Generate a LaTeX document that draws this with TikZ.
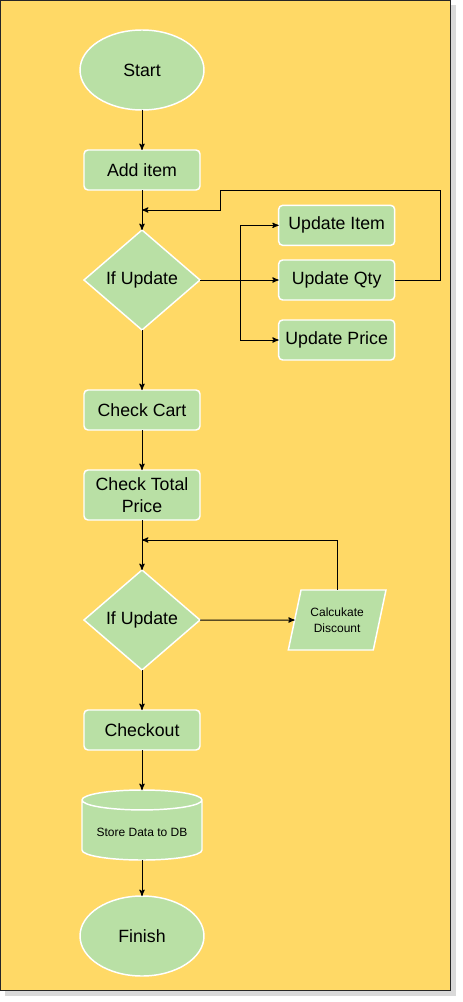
\documentclass[tikz,border=0pt]{standalone}
\usepackage{fontspec}
\setmainfont{Liberation Sans}
\usetikzlibrary{shapes.geometric}
\usetikzlibrary{shapes.symbols}
\usetikzlibrary{positioning}
\usetikzlibrary{arrows}
\definecolor{bgyellow}{HTML}{FFD966}
\definecolor{boxgreen}{HTML}{B9E0A5}
\tikzset{
    every node/.append style={
        font=\fontsize{13.3}{16.5}\selectfont
    },
    shapeline/.style={
        draw=white,
        line width=1.1pt,
        fill=boxgreen,
        outer sep=0pt
    },
    block/.style={
        shapeline,
        rectangle,
        rounded corners=3pt,
        minimum width=87pt,
        minimum height=30pt,
        align=center
    },
    terminal/.style={
        shapeline,
        ellipse,
        minimum width=93pt,
        minimum height=60pt
    },
    decision/.style={
        shapeline,
        diamond,
        inner sep=0pt,
        minimum width=87pt,
        minimum height=75pt
    },
    inout/.style={
        shapeline,
        trapezium,
        trapezium left angle=72,
        trapezium right angle=108,
        trapezium stretches=true,
        minimum width=73.5pt,
        minimum height=45pt,
        align=center,
        font=\fontsize{9}{12}\selectfont
    },
    database/.style={
        shapeline,
        cylinder,
        shape border rotate=90,
        aspect=0.2,
        minimum width=90pt,
        minimum height=52.5pt,
        font=\fontsize{9}{10}\selectfont
    },
    flow/.style={
        draw,
        ->,>=stealth',
        line width=0.75pt
    }
}

\begin{document}
\begin{tikzpicture}[x=0.75pt, y=-0.75pt]
            % page and shadow
            \useasboundingbox (0,0) rectangle (462,1002);
            \fill[gray!30] (5,5) rectangle (456,996);
            \draw[fill=bgyellow, line width=0.75pt, draw=black!85] (0.5,0.5) rectangle (450.5,990.5);

            \node[terminal] (start) at (142,70) {Start};
            \node[block, below=30pt of start] (additem) {Add item};
            \node[decision, below=30pt of additem] (ifupd) {If Update};
            \node[block, right=59pt of ifupd] (updqty) {Update Qty};
            \node[block, above=11pt of updqty] (upditem) {Update Item};
            \node[block, below=15pt of updqty] (updprice) {Update Price};
            \node[block, below=45pt of ifupd] (chkcart) {Check Cart};
            \node[block, below=30pt of chkcart, minimum height=37.5pt] (chktotal) {Check Total\\Price};
            \node[decision, below=37.5pt of chktotal] (ifdisc) {If Update};
            \node[inout, right=71pt of ifdisc] (calcdisc) {Calcukate\\Discount};
            \node[block, below=30pt of ifdisc] (checkout) {Checkout};
            \node[database, below=30pt of checkout] (store) {Store Data to DB};
            \node[terminal, below=27pt of store] (finish) {Finish};

            \coordinate (backin) at (additem.south |- 0,210);
            \coordinate (discin) at (chktotal.south |- 0,540);

            \draw[flow] (start) -- (additem);
            \draw[flow] (additem) -- (ifupd);
            \draw[flow] (ifupd) -- (updqty);
            \draw[flow] (ifupd.east) -- ++(40,0) |- (upditem);
            \draw[flow] (ifupd.east) -- ++(40,0) |- (updprice);
            \draw[flow] (updqty.east) -| (440,190) -| (220,210) -- (backin);
            \draw[flow] (ifupd) -- (chkcart);
            \draw[flow] (chkcart) -- (chktotal);
            \draw[flow] (chktotal) -- (ifdisc);
            \draw[flow] (ifdisc) -- (calcdisc);
            \draw[flow] (calcdisc.north) |- (discin);
            \draw[flow] (ifdisc) -- (checkout);
            \draw[flow] (checkout) -- (store);
            \draw[flow] (store) -- (finish);
        \end{tikzpicture}
\end{document}
